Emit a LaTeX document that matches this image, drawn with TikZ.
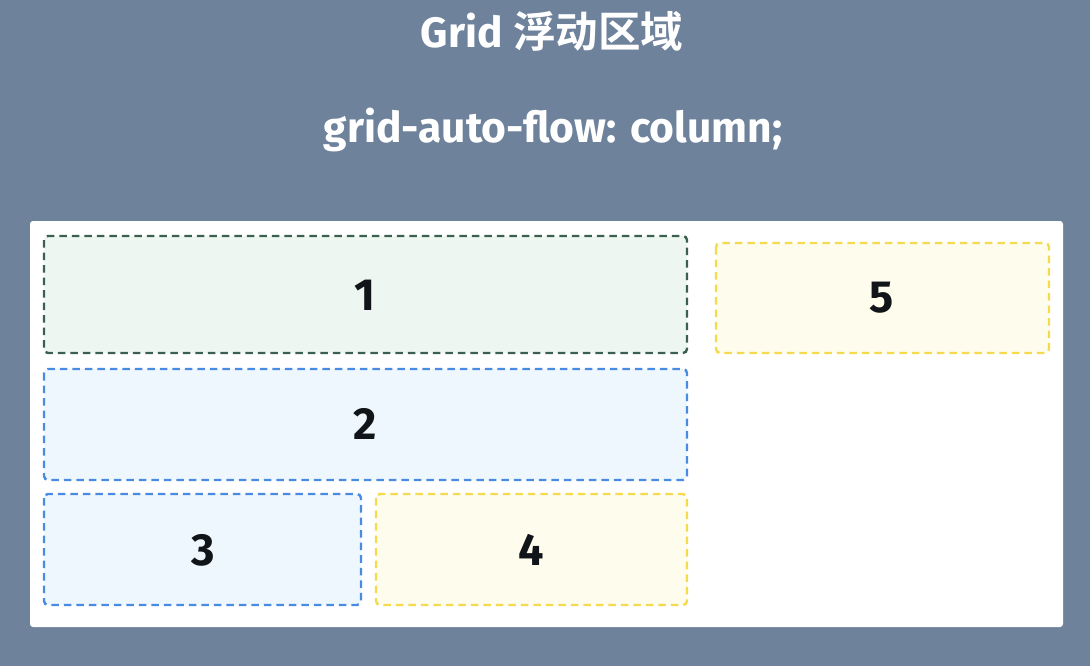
\documentclass[tikz,border=0pt]{standalone}
\usepackage{fontspec}
\setmainfont{Fira Sans}
\newfontfamily\cjkfont{Noto Sans CJK SC}[BoldFont={Noto Sans CJK SC Bold}]
\definecolor{bgc}{HTML}{6E829B}
\definecolor{greenb}{HTML}{3B5F50}
\definecolor{greenf}{HTML}{EEF6F2}
\definecolor{blueb}{HTML}{4A8BE2}
\definecolor{bluef}{HTML}{EEF6FE}
\definecolor{yellowb}{HTML}{F6DA4E}
\definecolor{yellowf}{HTML}{FEFCEC}
\definecolor{digitc}{HTML}{111418}
\tikzset{
  cell/.style={draw, line width=2.4pt, dash pattern=on 7.5pt off 5pt, rounded corners=4pt},
  greencell/.style={cell, draw=greenb, fill=greenf},
  bluecell/.style={cell, draw=blueb, fill=bluef},
  yellowcell/.style={cell, draw=yellowb, fill=yellowf},
  digit/.style={font=\fontsize{45}{45}\selectfont\bfseries, text=digitc},
  headline/.style={font=\fontsize{42.5}{45}\selectfont\bfseries, text=white}
}
\begin{document}
\begin{tikzpicture}[x=1pt,y=-1pt]
\fill[bgc] (0,0) rectangle (1090,666);
\useasboundingbox (0,0) rectangle (1090,666);
\node[headline] (title) at (552,31) {Grid {\cjkfont\bfseries 浮动区域}};
\node[headline] (subtitle) at (553,130) {grid-auto-flow: column;};
\fill[white, rounded corners=3pt] (30,221) rectangle (1063,627);
\draw[greencell] (44,236) rectangle (687,353);
\draw[bluecell] (44,369) rectangle (687,480);
\draw[bluecell] (44,494) rectangle (361,605);
\draw[yellowcell] (376,494) rectangle (687,605);
\draw[yellowcell] (716,243) rectangle (1049,353);
\node[digit] (d1) at (365,295) {1};
\node[digit] (d2) at (365,424) {2};
\node[digit] (d3) at (203,550) {3};
\node[digit] (d4) at (531,550) {4};
\node[digit] (d5) at (882,298) {5};
\end{tikzpicture}
\end{document}
